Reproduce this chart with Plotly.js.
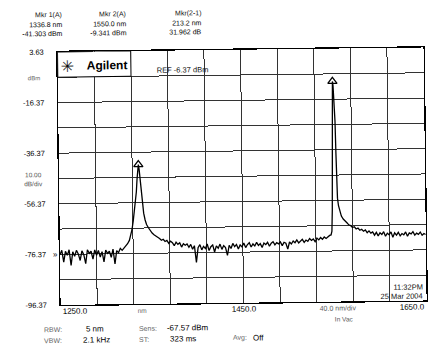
<!DOCTYPE html>
<html><head><meta charset="utf-8">
<script src="https://cdn.plot.ly/plotly-3.0.1.min.js"></script>
<style>
html,body{margin:0;padding:0;background:#fff;overflow:hidden;}
#chart{width:435px;height:345px;transform:rotate(-0.7deg);transform-origin:50% 50%;}
</style></head><body><div id="chart"></div>
<script>
// ---- data ----
const wavelength = [
1250,1252,1254,1256,1258,1260,1262,
1264,1266,1268,1270,1272,1274,1276,
1278,1280,1282,1284,1286,1288,1290,
1292,1294,1296,1298,1300,1302,1304,
1306,1308,1310,1312,1314,1316,1318,
1320,1322,1324,1326,1327.5,1329,1330.5,
1332,1333.3,1334.3,1335.2,1336,1336.8,1337.6,
1338.5,1339.5,1340.6,1342,1343.5,1345,1347,
1349,1351,1353,1355,1357,1359,1361,
1363,1365,1367,1369,1371,1373,1375,
1377,1379,1381,1383,1385,1387,1389,
1391,1393,1395,1397,1399,1401,1403,
1405,1407,1409,1411,1413,1415,1417,
1419,1421,1423,1425,1427,1429,1431,
1433,1435,1437,1439,1441,1443,1445,
1447,1449,1451,1453,1455,1457,1459,
1461,1463,1465,1467,1469,1471,1473,
1475,1477,1479,1481,1483,1485,1487,
1489,1491,1493,1495,1497,1499,1501,
1503,1505,1507,1509,1511,1513,1515,
1517,1519,1521,1523,1525,1527,1529,
1531,1533,1535,1537,1539,1541,1543,
1545,
1546.5,1547.5,1548.2,1548.7,1549.1,1549.5,1550,
1550.6,1551.5,1552.3,1552.9,1553.4,1554,1555,
1556.5,1558,1560,1562,1564,1566,1568,
1570,1572,1574,1576,1578,1580,1582,
1584,1586,1588,1590,
1592,1594,1596,1598,1600,1602,1604,
1606,1608,1610,1612,1614,1616,1618,
1620,1622,1624,1626,1628,1630,1632,
1634,1636,1638,1640,1642,1644,1646,
1648,1650
];
const powerDbm = [
-76.5,-74.8,-79.5,-75.2,-76.8,-74.6,-80.8,
-75.4,-77.2,-74.9,-76.3,-78.9,-75.1,-76.6,
-80.2,-74.7,-76.1,-75.3,-78.4,-74.8,-76.9,
-75.0,-77.6,-75.5,-79.6,-74.9,-76.2,-75.4,
-77.8,-74.6,-80.4,-75.2,-76.0,-74.3,-75.1,
-74.2,-73.6,-72.5,-71.2,-69.5,-67.0,-63.5,
-59.5,-56.5,-52.0,-47.0,-43.5,-41.3,-43.2,
-47.0,-52.0,-56.6,-60.5,-63.2,-65.0,-66.3,
-67.5,-68.4,-69.1,-69.8,-70.1,-70.6,-71.3,
-70.9,-71.8,-71.4,-72.6,-71.7,-72.3,-73.5,
-72.1,-73.0,-72.4,-74.1,-72.8,-73.4,-72.9,
-74.2,-73.1,-75.0,-73.6,-80.2,-74.4,-73.2,
-75.3,-73.9,-74.8,-73.0,-75.6,-74.1,-73.4,
-76.2,-73.8,-74.7,-73.1,-75.2,-73.7,-74.5,
-77.6,-73.6,-74.9,-72.9,-74.2,-73.3,-75.1,
-73.5,-74.3,-72.8,-74.6,-73.4,-72.7,-74.4,
-73.2,-74.0,-72.6,-73.8,-73.1,-74.6,-72.9,
-73.5,-72.6,-74.2,-73.0,-72.4,-73.7,-72.8,
-73.3,-72.5,-74.0,-72.7,-73.1,-75.4,-72.6,
-73.4,-72.2,-72.9,-71.8,-73.0,-72.3,-71.6,
-72.8,-71.9,-72.4,-71.3,-72.1,-71.5,-72.6,
-71.2,-71.9,-71.0,-71.7,-70.8,-71.4,-70.6,
-70.2,
-70.0,-68.5,-60.0,-45.0,-30.0,-18.0,-9.341,
-11.0,-16.0,-25.0,-38.0,-50.0,-55.5,-58.5,
-61.0,-62.6,-63.8,-64.8,-65.3,-66.1,-66.4,
-67.2,-66.9,-67.8,-67.4,-68.3,-67.9,-68.7,
-68.2,-69.3,-68.6,-69.5,
-69.0,-70.3,-69.2,-70.6,-69.4,-70.1,-69.0,
-70.8,-69.6,-70.2,-69.1,-71.2,-69.5,-70.4,
-69.3,-70.7,-69.8,-70.3,-69.2,-70.9,-69.6,
-70.0,-69.1,-70.5,-69.7,-70.2,-69.3,-70.6,
-69.9,-70.3
];
const markerWl = [1336.8, 1550.0];
const markerDbm = [-41.303, -9.341];
const mkrTitles = ['Mkr 1(A)', 'Mkr 2(A)', 'Mkr(2-1)'];
const mkrLine1 = ['1336.8 nm', '1550.0 nm', '213.2 nm'];
const mkrLine2 = ['-41.303 dBm', '-9.341 dBm', '31.962 dB'];
const yGrid = [3.63,-6.37,-16.37,-26.37,-36.37,-46.37,-56.37,-66.37,-76.37,-86.37,-96.37];
const yTickText = ['3.63','','-16.37','','-36.37','','-56.37','','-76.37','','-96.37'];
const xGrid = [1250,1290,1330,1370,1410,1450,1490,1530,1570,1610,1650];
const xTickText = ['1250.0','1450.0','1650.0'];
const xTickPos = [1250,1450,1650];
const settingLabels = ['RBW:','VBW:','Sens:','ST:','Avg:'];
const settingValues = ['5 nm','2.1 kHz','-67.57 dBm','323 ms','Off'];

// ---- layout helpers (pixel -> paper) ----
const L=59, T=50, W=366, H=253;
const px = x => (x-L)/W;
const py = y => (T+H-y)/H;
const FONT = 'Liberation Sans, Arial, sans-serif';
function ann(text, x, y, xanchor, size, color, extra){
  return Object.assign({text:text, xref:'paper', yref:'paper', x:px(x), y:py(y),
    xanchor:xanchor, yanchor:'middle', showarrow:false,
    font:{family:FONT, size:size, color:color}}, extra||{});
}
const annotations = [];
const hdrRight = [66,130,205];
for(let i=0;i<3;i++){
  annotations.push(ann(mkrTitles[i], hdrRight[i], 13, 'right', 7, '#111'));
  annotations.push(ann(mkrLine1[i], hdrRight[i], 22.5, 'right', 7, '#000'));
  annotations.push(ann(mkrLine2[i], hdrRight[i], 31.5, 'right', 7, '#000'));
}
annotations.push(ann('dBm', 42.5, 76, 'right', 6, '#666'));
annotations.push(ann('10.00', 33.5, 172, 'center', 6.5, '#555'));
annotations.push(ann('dB/div', 33.5, 181, 'center', 6.5, '#555'));
annotations.push(ann('»', 58.5, 252, 'right', 8, '#111'));
annotations.push(ann('✳', 68.5, 64, 'center', 16, '#111', {font:{family:'DejaVu Sans', size:16, color:'#111'}}));
annotations.push(ann('<b>Agilent</b>', 108.8, 64.4, 'center', 12, '#000'));
annotations.push(ann('REF -6.37 dBm', 184.3, 69.6, 'center', 7.5, '#111'));
annotations.push(ann('11:32PM', 423, 289.5, 'right', 7.5, '#111'));
annotations.push(ann('25 Mar 2004', 423, 298.5, 'right', 7.5, '#111'));
// x tick labels placed through the x axis data scale
const xAnch = ['left','center','right'];
for(let i=0;i<3;i++){
  annotations.push({text:xTickText[i], xref:'x', yref:'paper', x:xTickPos[i], y:py(309.5),
    xanchor:xAnch[i], yanchor:'middle', showarrow:false, font:{family:FONT,size:8,color:'#000'}});
}
annotations.push(ann('nm', 140.8, 309.5, 'center', 6.5, '#666'));
annotations.push(ann('40.0 nm/div', 336.5, 309.5, 'center', 7, '#555'));
annotations.push(ann('In Vac', 342, 320, 'center', 6.5, '#555'));
// settings
annotations.push(ann(settingLabels[0], 40, 327, 'left', 7, '#666'));
annotations.push(ann(settingLabels[1], 40, 338, 'left', 7, '#666'));
annotations.push(ann(settingValues[0], 93, 327, 'center', 8, '#000'));
annotations.push(ann(settingValues[1], 94, 338, 'center', 8, '#000'));
annotations.push(ann(settingLabels[2], 135, 327, 'left', 7, '#666'));
annotations.push(ann(settingLabels[3], 135, 338, 'left', 7, '#666'));
annotations.push(ann(settingValues[2], 163, 327, 'left', 8, '#000'));
annotations.push(ann(settingValues[3], 166, 338, 'left', 8, '#000'));
annotations.push(ann(settingLabels[4], 229, 338, 'left', 7, '#666'));
annotations.push(ann(settingValues[4], 249, 338, 'left', 8, '#000'));

const traces = [
  {x:wavelength, y:powerDbm, type:'scatter', mode:'lines',
   line:{color:'#000', width:1.3}, hoverinfo:'skip'},
  {x:markerWl, y:markerDbm, type:'scatter', mode:'markers', cliponaxis:false,
   marker:{symbol:'triangle-up-open', size:8, color:'#000', line:{width:1.3, color:'#000'}}}
];
const gridStyle = {gridcolor:'#333', gridwidth:1};
const layout = {
  width:435, height:345, showlegend:false,
  margin:{l:L, r:435-L-W, t:T, b:345-T-H},
  paper_bgcolor:'#fff', plot_bgcolor:'#fff',
  xaxis:Object.assign({range:[1250,1650], tickmode:'array', tickvals:xGrid,
    showticklabels:false, ticks:'', zeroline:false,
    showline:true, mirror:true, linecolor:'#000', linewidth:1.3}, gridStyle),
  yaxis:Object.assign({range:[-96.37,3.63], tickmode:'array', tickvals:yGrid, ticktext:yTickText,
    ticks:'outside', ticklen:11, tickcolor:'rgba(0,0,0,0)',
    tickfont:{family:FONT, size:7.5, color:'#000'}, zeroline:false,
    showline:true, mirror:true, linecolor:'#000', linewidth:1.3}, gridStyle),
  shapes:[{type:'rect', xref:'x', yref:'y', x0:1250, x1:1330, y0:-6.37, y1:3.63,
    fillcolor:'#fff', line:{color:'#000', width:1}, layer:'above'}],
  annotations:annotations
};
Plotly.newPlot('chart', traces, layout, {staticPlot:true, displayModeBar:false});
</script></body></html>
